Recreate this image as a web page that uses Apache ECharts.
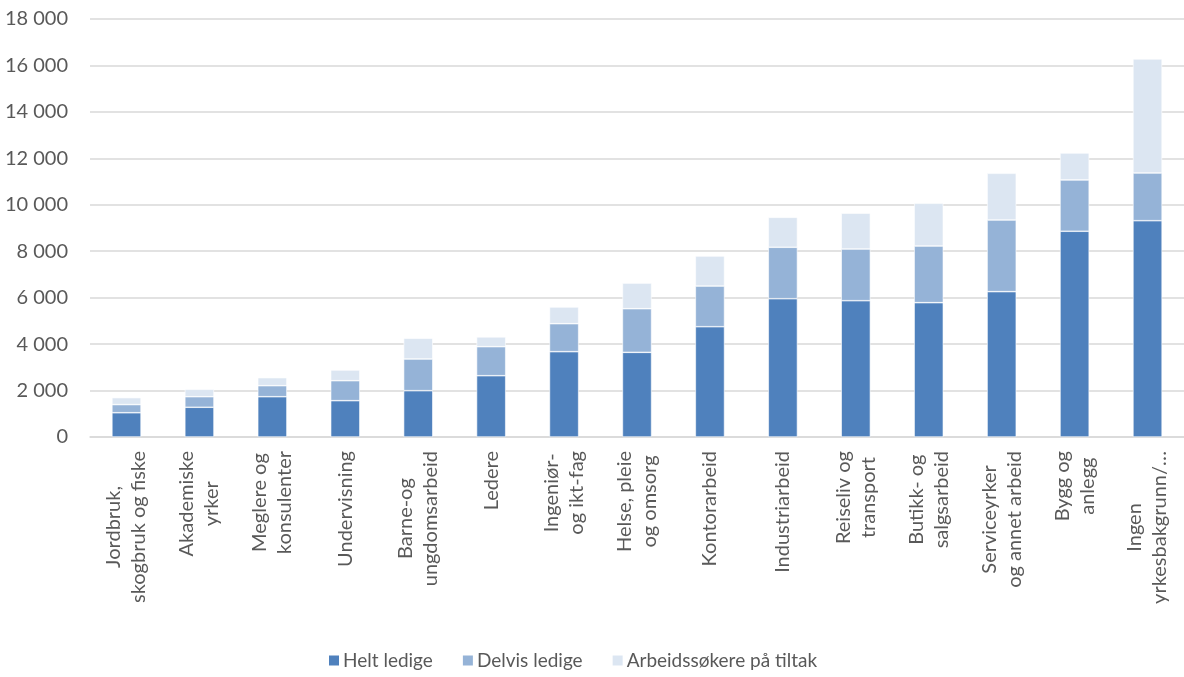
<!DOCTYPE html>
<html>
<head>
<meta charset="utf-8">
<script src="https://cdn.jsdelivr.net/npm/echarts@6/dist/echarts.min.js"></script>
<style>
html,body{margin:0;padding:0;background:#fff;}
#chart{width:1184px;height:677px;}
</style>
</head>
<body>
<div id="chart"></div>
<script>
const categories = [
  "Jordbruk,\nskogbruk og fiske",
  "Akademiske\nyrker",
  "Meglere og\nkonsulenter",
  "Undervisning",
  "Barne-og\nungdomsarbeid",
  "Ledere",
  "Ingeniør-\nog ikt-fag",
  "Helse, pleie\nog omsorg",
  "Kontorarbeid",
  "Industriarbeid",
  "Reiseliv og\ntransport",
  "Butikk- og\nsalgsarbeid",
  "Serviceyrker\nog annet arbeid",
  "Bygg og\nanlegg",
  "Ingen\nyrkesbakgrunn/…"
];
const heltLedige    = [1045, 1280, 1735, 1565, 1995, 2640, 3675, 3645, 4750, 5955, 5870, 5785, 6260, 8860, 9315];
const delvisLedige  = [ 350,  455,  475,  860, 1365, 1250, 1205, 1880, 1750, 2215, 2225, 2440, 3085, 2210, 2055];
const tiltak        = [ 300,  320,  345,  460,  890,  420,  720, 1105, 1295, 1290, 1540, 1840, 2010, 1160, 4910];
const seriesNames = ["Helt ledige", "Delvis ledige", "Arbeidssøkere på tiltak"];
const seriesColors = ["#4F81BD", "#95B3D7", "#DCE6F2"];

const FONT = "Lato";
const TXT = "#595959";

const chart = echarts.init(document.getElementById('chart'));
const dataSets = [heltLedige, delvisLedige, tiltak];
chart.setOption({
  animation: false,
  textStyle: {fontFamily: FONT},
  grid: {left: 90, right: 0, top: 19, bottom: 240, containLabel: false},
  legend: {
    bottom: 2,
    left: 322,
    itemWidth: 12,
    itemHeight: 12,
    itemGap: 28,
    icon: 'rect',
    textStyle: {fontFamily: FONT, fontSize: 19, color: TXT, padding: [0, 0, 0, -2]},
    data: seriesNames
  },
  xAxis: {
    type: 'category',
    data: categories,
    axisLine: {lineStyle: {color: '#d9d9d9', width: 1.5}},
    axisTick: {show: false},
    axisLabel: {
      rotate: 90,
      interval: 0,
      margin: 14,
      color: TXT,
      fontFamily: FONT,
      fontSize: 20,
      lineHeight: 25,
      formatter: function (v) {
        return v.split('\n').map(l => '{c|' + l + '}').join('\n');
      },
      rich: {c: {align: 'center', fontFamily: FONT, fontSize: 20, color: TXT, lineHeight: 25}}
    }
  },
  yAxis: {
    type: 'value',
    min: 0,
    max: 18000,
    interval: 2000,
    axisLine: {show: false},
    axisTick: {show: false},
    splitLine: {lineStyle: {color: '#d9d9d9', width: 1.5}},
    axisLabel: {
      margin: 22,
      color: TXT,
      fontFamily: FONT,
      fontSize: 20,
      formatter: function (v) {
        return String(v).replace(/\B(?=(\d{3})+(?!\d))/g, ' ');
      }
    }
  },
  series: seriesNames.map((n, i) => ({
    name: n,
    type: 'bar',
    stack: 'total',
    barWidth: '40%',
    itemStyle: {color: seriesColors[i], borderColor: '#ffffff', borderWidth: 0.6},
    data: dataSets[i]
  }))
});
</script>
</body>
</html>
